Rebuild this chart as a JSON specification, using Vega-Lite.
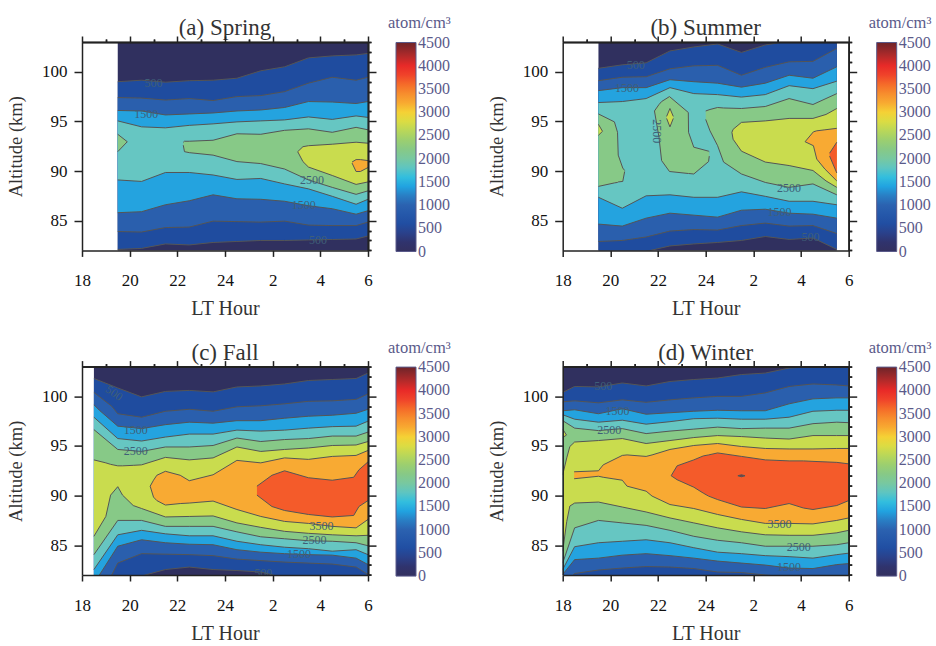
{"$schema":"https://vega.github.io/schema/vega-lite/v6.json","background":"white","padding":{"left":6,"top":15,"right":5,"bottom":5},"bounds":"flush","columns":2,"spacing":{"row":115.6,"column":194.7},"resolve":{"scale":{"color":"independent","fill":"independent"},"legend":{"color":"independent"}},
"config":{"view":{"stroke":null},"axis":{"grid":false,"zindex":1,"domainColor":"#222","domainWidth":1.5,"tickColor":"#222","tickWidth":1.5,"labelFont":"Liberation Serif","labelFontSize":17,"labelColor":"#111","titleFont":"Liberation Serif","titleFontSize":18.5,"titleFontWeight":"normal","titleColor":"#333","labelFlush":false},"title":{"font":"Liberation Serif","fontSize":23,"fontWeight":"normal","color":"#333","offset":-25,"anchor":"middle"},"legend":{"orient":"none","legendX":306,"legendY":-27,"gradientLength":209,"gradientThickness":20,"gradientStrokeColor":"#5a5a8a","gradientStrokeWidth":1,"labelFont":"Liberation Serif","labelFontSize":16,"labelColor":"#5a5a8a","labelOffset":1,"labelOverlap":false,"titleFont":"Liberation Serif","titleFontSize":16.5,"titleFontWeight":"normal","titleColor":"#5a5a8a","titlePadding":11}},
"datasets":{"bar":[{"v":0},{"v":4500}],
"a":[{"l":0,"h":19.5,"lo":80,"hi":105},{"l":0,"h":30,"lo":80,"hi":105},
{"l":500,"h":19.5,"lo":82.1,"hi":99},{"l":500,"h":20.5,"lo":82.2,"hi":99.15},{"l":500,"h":21.5,"lo":82.65,"hi":98.95},{"l":500,"h":22.5,"lo":82.55,"hi":99.1},{"l":500,"h":23.5,"lo":82.8,"hi":99.15},{"l":500,"h":24.5,"lo":82.9,"hi":99.35},{"l":500,"h":25.5,"lo":83,"hi":100.1},{"l":500,"h":26.5,"lo":83,"hi":100.5},{"l":500,"h":27.5,"lo":83.05,"hi":101.4},{"l":500,"h":28.5,"lo":83.1,"hi":101.6},{"l":500,"h":29.5,"lo":83.15,"hi":101.7},{"l":500,"h":30,"lo":83.45,"hi":101.85},
{"l":1000,"h":19.5,"lo":83.9,"hi":97.4},{"l":1000,"h":20.5,"lo":83.85,"hi":97.35},{"l":1000,"h":21.5,"lo":84.3,"hi":97.15},{"l":1000,"h":22.5,"lo":84.35,"hi":97.3},{"l":1000,"h":23.5,"lo":84.95,"hi":97.1},{"l":1000,"h":24.5,"lo":84.9,"hi":97.5},{"l":1000,"h":25.5,"lo":84.85,"hi":97.6},{"l":1000,"h":26.5,"lo":84.95,"hi":98},{"l":1000,"h":27.5,"lo":84.55,"hi":98.85},{"l":1000,"h":28.5,"lo":84.5,"hi":99.45},{"l":1000,"h":29.5,"lo":84.5,"hi":99.15},{"l":1000,"h":30,"lo":84.85,"hi":99.45},
{"l":1500,"h":19.5,"lo":85.8,"hi":96.1},{"l":1500,"h":20.5,"lo":85.9,"hi":96.05},{"l":1500,"h":21.5,"lo":86.6,"hi":95.65},{"l":1500,"h":22.5,"lo":87,"hi":95.75},{"l":1500,"h":23.5,"lo":87.6,"hi":95.85},{"l":1500,"h":24.5,"lo":87.2,"hi":96.05},{"l":1500,"h":25.5,"lo":87.15,"hi":96.15},{"l":1500,"h":26.5,"lo":86.95,"hi":96.4},{"l":1500,"h":27.5,"lo":86.5,"hi":97},{"l":1500,"h":28.5,"lo":86.2,"hi":96.95},{"l":1500,"h":29.5,"lo":85.65,"hi":96.8},{"l":1500,"h":30,"lo":86,"hi":97},
{"l":2000,"h":19.5,"lo":89.1,"hi":95.05},{"l":2000,"h":20.5,"lo":88.95,"hi":94.45},{"l":2000,"h":21.5,"lo":89.85,"hi":94.35},{"l":2000,"h":22.5,"lo":89.85,"hi":94.6},{"l":2000,"h":23.5,"lo":89.6,"hi":94.75},{"l":2000,"h":24.5,"lo":89.15,"hi":94.95},{"l":2000,"h":25.5,"lo":89.25,"hi":95.05},{"l":2000,"h":26.5,"lo":88.7,"hi":95.15},{"l":2000,"h":27.5,"lo":88.2,"hi":95.45},{"l":2000,"h":28.5,"lo":87.45,"hi":95.2},{"l":2000,"h":29.5,"lo":86.65,"hi":95.55},{"l":2000,"h":30,"lo":87.15,"hi":95.4},
{"l":2500,"r":1,"h":19.5,"lo":91.95,"hi":93.7},{"l":2500,"r":1,"h":19.9,"lo":92.95,"hi":92.95},
{"l":2500,"r":2,"h":22.25,"lo":92.6,"hi":92.9},{"l":2500,"r":2,"h":22.3,"lo":91.95,"hi":93},{"l":2500,"r":2,"h":22.5,"lo":91.85,"hi":93},{"l":2500,"r":2,"h":23.5,"lo":91.6,"hi":93.1},{"l":2500,"r":2,"h":24.5,"lo":90.95,"hi":93.75},{"l":2500,"r":2,"h":25.5,"lo":90.75,"hi":93.7},{"l":2500,"r":2,"h":26.5,"lo":90.2,"hi":94.1},{"l":2500,"r":2,"h":27.5,"lo":89.1,"hi":94.25},{"l":2500,"r":2,"h":28.5,"lo":88.35,"hi":93.9},{"l":2500,"r":2,"h":29.5,"lo":87.65,"hi":94.4},{"l":2500,"r":2,"h":30,"lo":88,"hi":94.15},
{"l":3000,"h":27.05,"lo":91.95,"hi":91.95},{"l":3000,"h":27.27,"lo":90.95,"hi":92.45},{"l":3000,"h":27.5,"lo":90.4,"hi":92.55},{"l":3000,"h":28.5,"lo":89.55,"hi":92.7},{"l":3000,"h":29.5,"lo":88.65,"hi":92.9},{"l":3000,"h":30,"lo":88.9,"hi":92.8},
{"l":3500,"h":29.33,"lo":90.8,"hi":90.9},{"l":3500,"h":29.5,"lo":89.95,"hi":91.15},{"l":3500,"h":29.68,"lo":89.95,"hi":91.15},{"l":3500,"h":30,"lo":90.35,"hi":91.05}],
"b":[{"l":0,"h":19.5,"lo":80,"hi":105},{"l":0,"h":29.5,"lo":80,"hi":105},
{"l":500,"h":19.5,"lo":81.5,"hi":100.35},{"l":500,"h":20.5,"lo":81.7,"hi":100.7},{"l":500,"h":21.5,"lo":81.9,"hi":100.9},{"l":500,"h":22.5,"lo":82.45,"hi":102.1},{"l":500,"h":23.5,"lo":82.65,"hi":102.5},{"l":500,"h":24.5,"lo":82.8,"hi":102.8},{"l":500,"h":25.5,"lo":83,"hi":101.95},{"l":500,"h":26.5,"lo":83.4,"hi":102.7},{"l":500,"h":27.5,"lo":83.1,"hi":103.1},{"l":500,"h":28.5,"lo":83.25,"hi":103.3},{"l":500,"h":29.5,"lo":82.1,"hi":103.45},
{"l":1000,"h":19.5,"lo":82.9,"hi":99.1},{"l":1000,"h":20.5,"lo":83,"hi":99.45},{"l":1000,"h":21.5,"lo":83.35,"hi":99.5},{"l":1000,"h":22.5,"lo":83.95,"hi":100.3},{"l":1000,"h":23.5,"lo":84.1,"hi":100.6},{"l":1000,"h":24.5,"lo":84.05,"hi":100.65},{"l":1000,"h":25.5,"lo":84.5,"hi":99.65},{"l":1000,"h":26.5,"lo":84.75,"hi":100.45},{"l":1000,"h":27.5,"lo":84.45,"hi":101},{"l":1000,"h":28.5,"lo":84.5,"hi":101.05},{"l":1000,"h":29.5,"lo":83.7,"hi":102.35},
{"l":1500,"h":19.5,"lo":84.65,"hi":98.1},{"l":1500,"h":20.5,"lo":84.45,"hi":98.4},{"l":1500,"h":21.5,"lo":85.25,"hi":98.4},{"l":1500,"h":22.5,"lo":85.75,"hi":99.2},{"l":1500,"h":23.5,"lo":85.55,"hi":99},{"l":1500,"h":24.5,"lo":85.35,"hi":98.85},{"l":1500,"h":25.5,"lo":86.05,"hi":98.45},{"l":1500,"h":26.5,"lo":86.15,"hi":98.85},{"l":1500,"h":27.5,"lo":85.75,"hi":99.65},{"l":1500,"h":28.5,"lo":85.65,"hi":99.35},{"l":1500,"h":29.5,"lo":85.25,"hi":100.5},
{"l":2000,"h":19.5,"lo":87.35,"hi":96.9},{"l":2000,"h":20.5,"lo":86.25,"hi":97},{"l":2000,"h":21.5,"lo":87.5,"hi":97.3},{"l":2000,"h":22.5,"lo":87.6,"hi":98.4},{"l":2000,"h":23.5,"lo":87.35,"hi":97.8},{"l":2000,"h":24.5,"lo":87.35,"hi":97.7},{"l":2000,"h":25.5,"lo":87.9,"hi":97.45},{"l":2000,"h":26.5,"lo":87.45,"hi":97.7},{"l":2000,"h":27.5,"lo":86.95,"hi":98.6},{"l":2000,"h":28.5,"lo":86.95,"hi":98.3},{"l":2000,"h":29.5,"lo":86.6,"hi":99.05},
{"l":2500,"r":1,"h":19.5,"lo":88.45,"hi":95.75},{"l":2500,"r":1,"h":20.17,"lo":88.8,"hi":94.95},{"l":2500,"r":1,"h":20.3,"lo":88.85,"hi":93.9},{"l":2500,"r":1,"h":20.33,"lo":88.9,"hi":91.6},{"l":2500,"r":1,"h":20.52,"lo":88.95,"hi":90.3},{"l":2500,"r":1,"h":20.6,"lo":89.95,"hi":90.05},
{"l":2500,"r":2,"h":21.85,"lo":96.05,"hi":96.05},{"l":2500,"r":2,"h":22.04,"lo":93.4,"hi":96.7},{"l":2500,"r":2,"h":22.15,"lo":91.05,"hi":97},{"l":2500,"r":2,"h":22.48,"lo":89.95,"hi":97.5},{"l":2500,"r":2,"h":23.27,"lo":89.75,"hi":95.9},{"l":2500,"r":2,"h":23.28,"lo":89.75,"hi":93.9},{"l":2500,"r":2,"h":23.5,"lo":89.7,"hi":92.4},{"l":2500,"r":2,"h":24.12,"lo":90.95,"hi":92},{"l":2500,"r":2,"h":24.15,"lo":91.5,"hi":91.95},
{"l":2500,"r":3,"h":24,"lo":95.2,"hi":96.05},{"l":2500,"r":3,"h":24.18,"lo":94.05,"hi":96.2},{"l":2500,"r":3,"h":24.5,"lo":92.55,"hi":96.4},{"l":2500,"r":3,"h":24.75,"lo":90.9,"hi":96.35},{"l":2500,"r":3,"h":25.5,"lo":89.7,"hi":96.3},{"l":2500,"r":3,"h":26.5,"lo":88.85,"hi":96.5},{"l":2500,"r":3,"h":27.5,"lo":88.35,"hi":97.3},{"l":2500,"r":3,"h":28.5,"lo":88.7,"hi":96.7},{"l":2500,"r":3,"h":29.5,"lo":87.6,"hi":97.8},
{"l":3000,"r":1,"h":19.5,"lo":93.6,"hi":94.7},{"l":3000,"r":1,"h":19.67,"lo":94,"hi":94},
{"l":3000,"r":2,"h":22.36,"lo":95.3,"hi":95.5},{"l":3000,"r":2,"h":22.5,"lo":94.45,"hi":96.3},{"l":3000,"r":2,"h":22.64,"lo":95.3,"hi":95.5},
{"l":3000,"r":3,"h":25.1,"lo":93.9,"hi":93.9},{"l":3000,"r":3,"h":25.15,"lo":93.2,"hi":94.2},{"l":3000,"r":3,"h":25.5,"lo":92,"hi":94.9},{"l":3000,"r":3,"h":26.5,"lo":90.9,"hi":95.05},{"l":3000,"r":3,"h":27.5,"lo":90.55,"hi":95.3},{"l":3000,"r":3,"h":28.5,"lo":90.05,"hi":95.3},{"l":3000,"r":3,"h":29.05,"lo":89,"hi":95.7},{"l":3000,"r":3,"h":29.5,"lo":88.35,"hi":96.3},
{"l":3500,"h":28.17,"lo":92.95,"hi":92.95},{"l":3500,"h":28.52,"lo":92.55,"hi":93.95},{"l":3500,"h":28.66,"lo":91.2,"hi":94.05},{"l":3500,"h":29,"lo":90.2,"hi":94.15},{"l":3500,"h":29.5,"lo":89,"hi":94.3},
{"l":4000,"h":29.2,"lo":91.5,"hi":91.8},{"l":4000,"h":29.5,"lo":89.8,"hi":92.9}],
"c":[{"l":0,"h":18.5,"lo":80,"hi":105},{"l":0,"h":30,"lo":80,"hi":105},
{"l":500,"h":18.5,"lo":81.2,"hi":101.8},{"l":500,"h":19.5,"lo":81.5,"hi":100.85},{"l":500,"h":20.5,"lo":81.9,"hi":99.95},{"l":500,"h":21.5,"lo":82.55,"hi":100.5},{"l":500,"h":22.5,"lo":82.8,"hi":100.6},{"l":500,"h":23.5,"lo":82.55,"hi":100.45},{"l":500,"h":24.5,"lo":82.45,"hi":100.95},{"l":500,"h":25.5,"lo":82.3,"hi":101.05},{"l":500,"h":26.5,"lo":81.7,"hi":101.25},{"l":500,"h":27.5,"lo":81.5,"hi":101.6},{"l":500,"h":28.5,"lo":81.5,"hi":101.7},{"l":500,"h":29.5,"lo":81.5,"hi":101.8},{"l":500,"h":30,"lo":81.5,"hi":102.35},
{"l":1000,"h":18.5,"lo":80.5,"hi":100.4},{"l":1000,"h":19.25,"lo":82,"hi":99},{"l":1000,"h":19.5,"lo":83.2,"hi":98.25},{"l":1000,"h":20.5,"lo":84.15,"hi":97.9},{"l":1000,"h":21.5,"lo":84.1,"hi":98.5},{"l":1000,"h":22.5,"lo":84.05,"hi":98.7},{"l":1000,"h":23.5,"lo":83.95,"hi":98.5},{"l":1000,"h":24.5,"lo":83.6,"hi":98.95},{"l":1000,"h":25.5,"lo":83.45,"hi":99.05},{"l":1000,"h":26.5,"lo":83.3,"hi":99.25},{"l":1000,"h":27.5,"lo":83.2,"hi":99.5},{"l":1000,"h":28.5,"lo":83.1,"hi":99.55},{"l":1000,"h":29.5,"lo":82.8,"hi":99.7},{"l":1000,"h":30,"lo":82.05,"hi":100.25},
{"l":1500,"h":18.5,"lo":81.2,"hi":99.15},{"l":1500,"h":18.73,"lo":82,"hi":98.6},{"l":1500,"h":19.5,"lo":84.9,"hi":97},{"l":1500,"h":20.5,"lo":85.55,"hi":96.75},{"l":1500,"h":21.5,"lo":85.25,"hi":97.15},{"l":1500,"h":22.5,"lo":85.1,"hi":97.4},{"l":1500,"h":23.5,"lo":85.05,"hi":97.3},{"l":1500,"h":24.5,"lo":84.55,"hi":97.55},{"l":1500,"h":25.5,"lo":84.3,"hi":97.55},{"l":1500,"h":26.5,"lo":84.15,"hi":97.8},{"l":1500,"h":27.5,"lo":84.05,"hi":98},{"l":1500,"h":28.5,"lo":84,"hi":98.1},{"l":1500,"h":29.5,"lo":83.7,"hi":98.3},{"l":1500,"h":30,"lo":83.05,"hi":98.7},
{"l":2000,"h":18.5,"lo":82.55,"hi":97.9},{"l":2000,"h":19.5,"lo":86.05,"hi":95.75},{"l":2000,"h":20.5,"lo":86.5,"hi":95.5},{"l":2000,"h":21.5,"lo":86.15,"hi":95.9},{"l":2000,"h":22.5,"lo":85.95,"hi":96.2},{"l":2000,"h":23.5,"lo":85.95,"hi":96.2},{"l":2000,"h":24.5,"lo":85.4,"hi":96.6},{"l":2000,"h":25.5,"lo":85.05,"hi":96.5},{"l":2000,"h":26.5,"lo":84.8,"hi":96.6},{"l":2000,"h":27.5,"lo":84.65,"hi":96.8},{"l":2000,"h":28.5,"lo":84.4,"hi":96.95},{"l":2000,"h":29.5,"lo":84.55,"hi":97},{"l":2000,"h":30,"lo":84.05,"hi":97.5},
{"l":2500,"h":18.5,"lo":84.05,"hi":96.65},{"l":2500,"h":19.5,"lo":87.5,"hi":94.65},{"l":2500,"h":20.5,"lo":87.5,"hi":94.45},{"l":2500,"h":21.5,"lo":86.9,"hi":94.9},{"l":2500,"h":22.5,"lo":86.9,"hi":94.9},{"l":2500,"h":23.5,"lo":86.9,"hi":95.05},{"l":2500,"h":24.5,"lo":86.35,"hi":95.8},{"l":2500,"h":25.5,"lo":85.85,"hi":95.45},{"l":2500,"h":26.5,"lo":85.65,"hi":95.65},{"l":2500,"h":27.5,"lo":85.45,"hi":95.75},{"l":2500,"h":28.5,"lo":85.4,"hi":96},{"l":2500,"h":29.5,"lo":85.25,"hi":96},{"l":2500,"h":30,"lo":84.95,"hi":96.4},
{"l":3000,"h":18.5,"lo":85.9,"hi":93.6},{"l":3000,"h":19,"lo":87.9,"hi":93.3},{"l":3000,"h":19.2,"lo":90.05,"hi":93.15},{"l":3000,"h":19.5,"lo":90.9,"hi":93},{"l":3000,"h":19.7,"lo":90.05,"hi":93},{"l":3000,"h":20.15,"lo":89,"hi":93.05},{"l":3000,"h":20.5,"lo":88.7,"hi":93.1},{"l":3000,"h":21.5,"lo":87.85,"hi":93.85},{"l":3000,"h":22.5,"lo":87.9,"hi":93.6},{"l":3000,"h":23.5,"lo":87.95,"hi":93.8},{"l":3000,"h":24.5,"lo":87.25,"hi":94.9},{"l":3000,"h":25.5,"lo":86.8,"hi":94.45},{"l":3000,"h":26.5,"lo":86.4,"hi":94.65},{"l":3000,"h":27.5,"lo":86.2,"hi":94.8},{"l":3000,"h":28.5,"lo":86.05,"hi":95.05},{"l":3000,"h":29.5,"lo":85.95,"hi":95.1},{"l":3000,"h":30,"lo":86,"hi":95.45},
{"l":3500,"h":20.86,"lo":90.95,"hi":90.95},{"l":3500,"h":21,"lo":89.85,"hi":91.55},{"l":3500,"h":21.14,"lo":89.5,"hi":92.05},{"l":3500,"h":21.5,"lo":89.05,"hi":92.45},{"l":3500,"h":22.12,"lo":89.2,"hi":92.05},{"l":3500,"h":22.5,"lo":89.25,"hi":91.5},{"l":3500,"h":23.5,"lo":89.45,"hi":92.1},{"l":3500,"h":24.5,"lo":88.6,"hi":93.55},{"l":3500,"h":25.5,"lo":87.9,"hi":93.3},{"l":3500,"h":26.5,"lo":87.4,"hi":93.8},{"l":3500,"h":27.5,"lo":87.2,"hi":93.65},{"l":3500,"h":28.5,"lo":86.9,"hi":93.95},{"l":3500,"h":29.5,"lo":86.75,"hi":94.05},{"l":3500,"h":30,"lo":87.6,"hi":94.55},
{"l":4000,"h":25.34,"lo":90.05,"hi":90.95},{"l":4000,"h":25.97,"lo":88.9,"hi":92.05},{"l":4000,"h":26.5,"lo":88.5,"hi":92.5},{"l":4000,"h":27.5,"lo":88.1,"hi":91.8},{"l":4000,"h":28.5,"lo":87.85,"hi":91.55},{"l":4000,"h":29.4,"lo":88,"hi":91.85},{"l":4000,"h":29.62,"lo":88.9,"hi":92.6},{"l":4000,"h":30,"lo":89.5,"hi":93.4}],
"d":[{"l":0,"h":18,"lo":80,"hi":105},{"l":0,"h":30,"lo":80,"hi":105},
{"l":500,"h":18,"lo":81,"hi":100.4},{"l":500,"h":18.5,"lo":81,"hi":101},{"l":500,"h":19.5,"lo":81,"hi":100.95},{"l":500,"h":20.5,"lo":81,"hi":101.35},{"l":500,"h":21.5,"lo":81,"hi":101.05},{"l":500,"h":22.5,"lo":81,"hi":101.5},{"l":500,"h":23.5,"lo":81,"hi":101.7},{"l":500,"h":24.5,"lo":81,"hi":101.85},{"l":500,"h":25.5,"lo":81,"hi":102.2},{"l":500,"h":26.5,"lo":81,"hi":102.35},{"l":500,"h":27.5,"lo":81,"hi":102.85},{"l":500,"h":28.5,"lo":81,"hi":103},{"l":500,"h":29.5,"lo":81,"hi":103.1},{"l":500,"h":30,"lo":81,"hi":103.2},
{"l":1000,"h":18,"lo":81,"hi":99.45},{"l":1000,"h":18.5,"lo":82.15,"hi":99.55},{"l":1000,"h":19.5,"lo":82.5,"hi":99.35},{"l":1000,"h":20.5,"lo":82.7,"hi":99.65},{"l":1000,"h":21.5,"lo":82.85,"hi":99.4},{"l":1000,"h":22.5,"lo":82.8,"hi":99.65},{"l":1000,"h":23.5,"lo":82.65,"hi":99.85},{"l":1000,"h":24.5,"lo":82.3,"hi":100},{"l":1000,"h":25.5,"lo":82.25,"hi":100},{"l":1000,"h":26.5,"lo":82,"hi":100.35},{"l":1000,"h":27.5,"lo":81.8,"hi":101},{"l":1000,"h":28.5,"lo":81.6,"hi":101.25},{"l":1000,"h":29.5,"lo":81.5,"hi":101.15},{"l":1000,"h":30,"lo":81.5,"hi":101.05},
{"l":1500,"h":18,"lo":82.05,"hi":98.55},{"l":1500,"h":18.5,"lo":83.55,"hi":98.65},{"l":1500,"h":19.5,"lo":83.7,"hi":98.25},{"l":1500,"h":20.5,"lo":84,"hi":98.75},{"l":1500,"h":21.5,"lo":84.15,"hi":98.2},{"l":1500,"h":22.5,"lo":83.95,"hi":98.35},{"l":1500,"h":23.5,"lo":83.7,"hi":98.5},{"l":1500,"h":24.5,"lo":83.4,"hi":98.6},{"l":1500,"h":25.5,"lo":83.2,"hi":98.55},{"l":1500,"h":26.5,"lo":83,"hi":98.55},{"l":1500,"h":27.5,"lo":82.7,"hi":99.25},{"l":1500,"h":28.5,"lo":82.65,"hi":99.75},{"l":1500,"h":29.5,"lo":83.05,"hi":99.85},{"l":1500,"h":30,"lo":83.15,"hi":99.85},
{"l":2000,"h":18,"lo":82.55,"hi":98.15},{"l":2000,"h":18.5,"lo":84.85,"hi":97.7},{"l":2000,"h":19.5,"lo":85.25,"hi":97.4},{"l":2000,"h":20.5,"lo":85.4,"hi":97.6},{"l":2000,"h":21.5,"lo":85.55,"hi":97.2},{"l":2000,"h":22.5,"lo":85.25,"hi":97.45},{"l":2000,"h":23.5,"lo":84.75,"hi":97.75},{"l":2000,"h":24.5,"lo":84.3,"hi":97.8},{"l":2000,"h":25.5,"lo":84.15,"hi":97.7},{"l":2000,"h":26.5,"lo":83.95,"hi":97.7},{"l":2000,"h":27.5,"lo":83.85,"hi":97.9},{"l":2000,"h":28.5,"lo":83.7,"hi":98.5},{"l":2000,"h":29.5,"lo":84.05,"hi":98.6},{"l":2000,"h":30,"lo":84.2,"hi":98.6},
{"l":2500,"h":18,"lo":83.2,"hi":97.55},{"l":2500,"h":18.5,"lo":86.75,"hi":96.8},{"l":2500,"h":19.5,"lo":87.5,"hi":96.55},{"l":2500,"h":20.5,"lo":87.25,"hi":96.75},{"l":2500,"h":21.5,"lo":87,"hi":96.25},{"l":2500,"h":22.5,"lo":86.5,"hi":96.5},{"l":2500,"h":23.5,"lo":85.9,"hi":96.7},{"l":2500,"h":24.5,"lo":85.5,"hi":96.9},{"l":2500,"h":25.5,"lo":85.25,"hi":96.75},{"l":2500,"h":26.5,"lo":84.9,"hi":96.8},{"l":2500,"h":27.5,"lo":84.9,"hi":96.8},{"l":2500,"h":28.5,"lo":84.9,"hi":97.25},{"l":2500,"h":29.5,"lo":85.05,"hi":97.4},{"l":2500,"h":30,"lo":85.25,"hi":97.35},
{"l":3000,"r":1,"h":18,"lo":84.4,"hi":92.1},{"l":3000,"r":1,"h":18.17,"lo":87.4,"hi":93.8},{"l":3000,"r":1,"h":18.3,"lo":88.95,"hi":94.95},{"l":3000,"r":1,"h":18.5,"lo":89.25,"hi":95.4},{"l":3000,"r":1,"h":19.5,"lo":89.35,"hi":95.55},{"l":3000,"r":1,"h":20.5,"lo":88.85,"hi":95.75},{"l":3000,"r":1,"h":21.5,"lo":88.35,"hi":95.25},{"l":3000,"r":1,"h":22.5,"lo":87.75,"hi":95.55},{"l":3000,"r":1,"h":23.5,"lo":87.25,"hi":95.85},{"l":3000,"r":1,"h":24.5,"lo":86.75,"hi":96.05},{"l":3000,"r":1,"h":25.5,"lo":86.35,"hi":95.95},{"l":3000,"r":1,"h":26.5,"lo":86.05,"hi":95.8},{"l":3000,"r":1,"h":27.5,"lo":86,"hi":95.7},{"l":3000,"r":1,"h":28.5,"lo":86,"hi":96.05},{"l":3000,"r":1,"h":29.5,"lo":86.25,"hi":96.05},{"l":3000,"r":1,"h":30,"lo":86.5,"hi":96.05},
{"l":3000,"r":2,"h":18,"lo":95.85,"hi":96.7},{"l":3000,"r":2,"h":18.16,"lo":96.1,"hi":96.1},
{"l":3500,"h":18.48,"lo":91.7,"hi":92.4},{"l":3500,"h":19.5,"lo":91.95,"hi":92.5},{"l":3500,"h":19.7,"lo":91.85,"hi":93.1},{"l":3500,"h":20.5,"lo":91.55,"hi":94.05},{"l":3500,"h":20.7,"lo":90.95,"hi":94.1},{"l":3500,"h":21.5,"lo":90.45,"hi":93.95},{"l":3500,"h":21.75,"lo":89.95,"hi":94.1},{"l":3500,"h":22.5,"lo":89.1,"hi":94.65},{"l":3500,"h":23.5,"lo":88.7,"hi":95.05},{"l":3500,"h":24.5,"lo":88.1,"hi":95.25},{"l":3500,"h":25.5,"lo":87.6,"hi":94.95},{"l":3500,"h":26.5,"lo":87.2,"hi":94.75},{"l":3500,"h":27.5,"lo":87.2,"hi":94.7},{"l":3500,"h":28.5,"lo":87.15,"hi":94.7},{"l":3500,"h":29.5,"lo":87.5,"hi":94.75},{"l":3500,"h":30,"lo":87.75,"hi":94.75},
{"l":4000,"h":22.55,"lo":92,"hi":92},{"l":4000,"h":22.8,"lo":91.6,"hi":93},{"l":4000,"h":23.5,"lo":90.85,"hi":93.6},{"l":4000,"h":23.9,"lo":90.25,"hi":94},{"l":4000,"h":24.12,"lo":89.95,"hi":94.1},{"l":4000,"h":24.5,"lo":89.6,"hi":94.3},{"l":4000,"h":25.5,"lo":88.85,"hi":93.95},{"l":4000,"h":26.5,"lo":88.7,"hi":93.6},{"l":4000,"h":27.5,"lo":89.2,"hi":93.5},{"l":4000,"h":28.1,"lo":88.75,"hi":93.5},{"l":4000,"h":28.5,"lo":88.6,"hi":93.45},{"l":4000,"h":29.5,"lo":89,"hi":93.35},{"l":4000,"h":30,"lo":89.5,"hi":93.2},
{"l":4500,"h":25.35,"lo":92,"hi":92},{"l":4500,"h":25.5,"lo":91.9,"hi":92.1},{"l":4500,"h":25.65,"lo":92,"hi":92}],
"aL":[{"h":21,"alt":98.9,"t":"500"},{"h":20.7,"alt":95.7,"t":"1500"},{"h":27.65,"alt":89.1,"t":"2500"},{"h":27.3,"alt":86.6,"t":"1500"},{"h":27.9,"alt":83,"t":"500"}],
"bL":[{"h":21.06,"alt":100.7,"t":"500"},{"h":20.7,"alt":98.35,"t":"1500"},{"h":27.5,"alt":88.3,"t":"2500"},{"h":27.1,"alt":85.9,"t":"1500"},{"h":28.4,"alt":83.3,"t":"500"}],
"cL":[{"h":20.25,"alt":96.6,"t":"1500"},{"h":20.25,"alt":94.45,"t":"2500"},{"h":28.05,"alt":86.95,"t":"3500"},{"h":27.75,"alt":85.5,"t":"2500"},{"h":27.1,"alt":84.15,"t":"1500"},{"h":25.6,"alt":82.2,"t":"500"}],
"dL":[{"h":19.7,"alt":101,"t":"500"},{"h":20.3,"alt":98.5,"t":"1500"},{"h":19.95,"alt":96.6,"t":"2500"},{"h":27.1,"alt":87.15,"t":"3500"},{"h":27.9,"alt":84.85,"t":"2500"},{"h":27.5,"alt":82.8,"t":"1500"}]},
"concat":[
{"title":"(a) Spring","width":286,"height":208.4,"resolve":{"axis":{"x":"independent","y":"independent"}},"layer":[
{"data":{"name":"a"},"mark":{"type":"area","clip":true},"encoding":{"x":{"field":"h","type":"quantitative","scale":{"domain":[18,30],"nice":false},"axis":{"values":[18,20,22,24,26,28,30],"labelExpr":"datum.value>24?datum.value-24:datum.value","title":"LT Hour","titleFontSize":20,"tickSize":6,"labelPadding":16,"titlePadding":10,"zindex":1}},"y":{"field":"lo","type":"quantitative","scale":{"domain":[82,103],"nice":false},"axis":{"values":[85,90,95,100],"title":"Altitude (km)","tickSize":8,"labelPadding":7,"titlePadding":16,"zindex":1}},"y2":{"field":"hi"},"fill":{"field":"l","type":"ordinal","legend":null,"scale":{"domain":[0,500,1000,1500,2000,2500,3000,3500,4000,4500],"range":["#30305f","#1f4c9f","#2a5fad","#24a3df","#66c6c2","#87c987","#c9dc4e","#f8aa33","#f45b2a","#7a3a40"]}},"detail":{"field":"r"}}},
{"data":{"name":"a"},"mark":{"type":"line","clip":true,"color":"#555","strokeWidth":1},"encoding":{"x":{"field":"h","type":"quantitative","scale":{"domain":[18,30],"nice":false},"axis":{"values":[19,21,23,25,27,29],"labels":false,"title":null,"tickSize":3,"zindex":1}},"y":{"field":"lo","type":"quantitative","scale":{"domain":[82,103],"nice":false},"axis":{"values":[82,83,84,86,87,88,89,91,92,93,94,96,97,98,99,101,102,103],"labels":false,"title":null,"tickSize":3,"zindex":1}},"detail":[{"field":"l"},{"field":"r"}]}},
{"data":{"name":"a"},"mark":{"type":"line","clip":true,"color":"#555","strokeWidth":1},"encoding":{"x":{"field":"h","type":"quantitative","scale":{"domain":[18,30],"nice":false},"axis":{"orient":"top","values":[18,20,22,24,26,28,30],"labels":false,"title":null,"tickSize":6,"zindex":1}},"y":{"field":"hi","type":"quantitative","scale":{"domain":[82,103],"nice":false},"axis":{"orient":"right","values":[85,90,95,100],"labels":false,"title":null,"tickSize":8,"zindex":1}},"detail":[{"field":"l"},{"field":"r"}]}},
{"data":{"name":"aL"},"mark":{"type":"text","font":"Liberation Serif","fontSize":12,"color":"#3f5f78","clip":true},"encoding":{"x":{"field":"h","type":"quantitative","scale":{"domain":[18,30],"nice":false},"axis":{"orient":"top","values":[19,21,23,25,27,29],"labels":false,"title":null,"tickSize":3,"zindex":1}},"y":{"field":"alt","type":"quantitative","scale":{"domain":[82,103],"nice":false},"axis":{"orient":"right","values":[82,83,84,86,87,88,89,91,92,93,94,96,97,98,99,101,102,103],"labels":false,"title":null,"tickSize":3,"zindex":1}},"text":{"field":"t"}}},
{"data":{"name":"bar"},"mark":{"type":"point","size":0,"filled":true,"opacity":1},"encoding":{"color":{"field":"v","type":"quantitative","scale":{"domain":[0,250,500,750,1000,1250,1500,1750,2000,2250,2500,2750,3000,3250,3500,3750,4000,4250,4500],"range":["#33305f","#2f3470","#1f4a9e","#2455a8","#2b62b0","#2a85c8","#20b8ee","#5cc4c8","#78c8a0","#8dc97f","#a9d263","#d4de48","#f5d135","#f7a032","#f67f2c","#f2482a","#e82a28","#a82a2a","#6e2428"]},"legend":{"title":"atom/cm³","format":"d","values":[0,500,1000,1500,2000,2500,3000,3500,4000,4500],"encoding":{"title":{"dx":{"value":-8}},"labels":{"baseline":{"value":"middle"}}}}}}}
]},
{"title":"(b) Summer","width":286,"height":208.4,"resolve":{"axis":{"x":"independent","y":"independent"}},"layer":[
{"data":{"name":"b"},"mark":{"type":"area","clip":true},"encoding":{"x":{"field":"h","type":"quantitative","scale":{"domain":[18,30],"nice":false},"axis":{"values":[18,20,22,24,26,28,30],"labelExpr":"datum.value>24?datum.value-24:datum.value","title":"LT Hour","titleFontSize":20,"tickSize":6,"labelPadding":16,"titlePadding":10,"zindex":1}},"y":{"field":"lo","type":"quantitative","scale":{"domain":[82,103],"nice":false},"axis":{"values":[85,90,95,100],"title":"Altitude (km)","tickSize":8,"labelPadding":7,"titlePadding":16,"zindex":1}},"y2":{"field":"hi"},"fill":{"field":"l","type":"ordinal","legend":null,"scale":{"domain":[0,500,1000,1500,2000,2500,3000,3500,4000,4500],"range":["#30305f","#1f4c9f","#2a5fad","#24a3df","#66c6c2","#87c987","#c9dc4e","#f8aa33","#f45b2a","#7a3a40"]}},"detail":{"field":"r"}}},
{"data":{"name":"b"},"mark":{"type":"line","clip":true,"color":"#555","strokeWidth":1},"encoding":{"x":{"field":"h","type":"quantitative","scale":{"domain":[18,30],"nice":false},"axis":{"values":[19,21,23,25,27,29],"labels":false,"title":null,"tickSize":3,"zindex":1}},"y":{"field":"lo","type":"quantitative","scale":{"domain":[82,103],"nice":false},"axis":{"values":[82,83,84,86,87,88,89,91,92,93,94,96,97,98,99,101,102,103],"labels":false,"title":null,"tickSize":3,"zindex":1}},"detail":[{"field":"l"},{"field":"r"}]}},
{"data":{"name":"b"},"mark":{"type":"line","clip":true,"color":"#555","strokeWidth":1},"encoding":{"x":{"field":"h","type":"quantitative","scale":{"domain":[18,30],"nice":false},"axis":{"orient":"top","values":[18,20,22,24,26,28,30],"labels":false,"title":null,"tickSize":6,"zindex":1}},"y":{"field":"hi","type":"quantitative","scale":{"domain":[82,103],"nice":false},"axis":{"orient":"right","values":[85,90,95,100],"labels":false,"title":null,"tickSize":8,"zindex":1}},"detail":[{"field":"l"},{"field":"r"}]}},
{"data":{"name":"bL"},"mark":{"type":"text","font":"Liberation Serif","fontSize":12,"color":"#3f5f78","clip":true},"encoding":{"x":{"field":"h","type":"quantitative","scale":{"domain":[18,30],"nice":false},"axis":{"orient":"top","values":[19,21,23,25,27,29],"labels":false,"title":null,"tickSize":3,"zindex":1}},"y":{"field":"alt","type":"quantitative","scale":{"domain":[82,103],"nice":false},"axis":{"orient":"right","values":[82,83,84,86,87,88,89,91,92,93,94,96,97,98,99,101,102,103],"labels":false,"title":null,"tickSize":3,"zindex":1}},"text":{"field":"t"}}},
{"data":{"values":[{"h":21.95,"alt":94,"t":"2500"}]},"mark":{"type":"text","font":"Liberation Serif","fontSize":12,"color":"#3f5f78","angle":90},"encoding":{"x":{"field":"h","type":"quantitative","scale":{"domain":[18,30],"nice":false},"axis":null},"y":{"field":"alt","type":"quantitative","scale":{"domain":[82,103],"nice":false},"axis":null},"text":{"field":"t"}}},
{"data":{"name":"bar"},"mark":{"type":"point","size":0,"filled":true,"opacity":1},"encoding":{"color":{"field":"v","type":"quantitative","scale":{"domain":[0,250,500,750,1000,1250,1500,1750,2000,2250,2500,2750,3000,3250,3500,3750,4000,4250,4500],"range":["#33305f","#2f3470","#1f4a9e","#2455a8","#2b62b0","#2a85c8","#20b8ee","#5cc4c8","#78c8a0","#8dc97f","#a9d263","#d4de48","#f5d135","#f7a032","#f67f2c","#f2482a","#e82a28","#a82a2a","#6e2428"]},"legend":{"title":"atom/cm³","format":"d","values":[0,500,1000,1500,2000,2500,3000,3500,4000,4500],"encoding":{"title":{"dx":{"value":-8}},"labels":{"baseline":{"value":"middle"}}}}}}}
]},
{"title":"(c) Fall","width":286,"height":208.4,"resolve":{"axis":{"x":"independent","y":"independent"}},"layer":[
{"data":{"name":"c"},"mark":{"type":"area","clip":true},"encoding":{"x":{"field":"h","type":"quantitative","scale":{"domain":[18,30],"nice":false},"axis":{"values":[18,20,22,24,26,28,30],"labelExpr":"datum.value>24?datum.value-24:datum.value","title":"LT Hour","titleFontSize":20,"tickSize":6,"labelPadding":16,"titlePadding":10,"zindex":1}},"y":{"field":"lo","type":"quantitative","scale":{"domain":[82,103],"nice":false},"axis":{"values":[85,90,95,100],"title":"Altitude (km)","tickSize":8,"labelPadding":7,"titlePadding":16,"zindex":1}},"y2":{"field":"hi"},"fill":{"field":"l","type":"ordinal","legend":null,"scale":{"domain":[0,500,1000,1500,2000,2500,3000,3500,4000,4500],"range":["#30305f","#1f4c9f","#2a5fad","#24a3df","#66c6c2","#87c987","#c9dc4e","#f8aa33","#f45b2a","#7a3a40"]}},"detail":{"field":"r"}}},
{"data":{"name":"c"},"mark":{"type":"line","clip":true,"color":"#555","strokeWidth":1},"encoding":{"x":{"field":"h","type":"quantitative","scale":{"domain":[18,30],"nice":false},"axis":{"values":[19,21,23,25,27,29],"labels":false,"title":null,"tickSize":3,"zindex":1}},"y":{"field":"lo","type":"quantitative","scale":{"domain":[82,103],"nice":false},"axis":{"values":[82,83,84,86,87,88,89,91,92,93,94,96,97,98,99,101,102,103],"labels":false,"title":null,"tickSize":3,"zindex":1}},"detail":[{"field":"l"},{"field":"r"}]}},
{"data":{"name":"c"},"mark":{"type":"line","clip":true,"color":"#555","strokeWidth":1},"encoding":{"x":{"field":"h","type":"quantitative","scale":{"domain":[18,30],"nice":false},"axis":{"orient":"top","values":[18,20,22,24,26,28,30],"labels":false,"title":null,"tickSize":6,"zindex":1}},"y":{"field":"hi","type":"quantitative","scale":{"domain":[82,103],"nice":false},"axis":{"orient":"right","values":[85,90,95,100],"labels":false,"title":null,"tickSize":8,"zindex":1}},"detail":[{"field":"l"},{"field":"r"}]}},
{"data":{"name":"cL"},"mark":{"type":"text","font":"Liberation Serif","fontSize":12,"color":"#3f5f78","clip":true},"encoding":{"x":{"field":"h","type":"quantitative","scale":{"domain":[18,30],"nice":false},"axis":{"orient":"top","values":[19,21,23,25,27,29],"labels":false,"title":null,"tickSize":3,"zindex":1}},"y":{"field":"alt","type":"quantitative","scale":{"domain":[82,103],"nice":false},"axis":{"orient":"right","values":[82,83,84,86,87,88,89,91,92,93,94,96,97,98,99,101,102,103],"labels":false,"title":null,"tickSize":3,"zindex":1}},"text":{"field":"t"}}},
{"data":{"values":[{"h":19.35,"alt":100.35,"t":"500"}]},"mark":{"type":"text","font":"Liberation Serif","fontSize":12,"color":"#3f5f78","angle":35},"encoding":{"x":{"field":"h","type":"quantitative","scale":{"domain":[18,30],"nice":false},"axis":null},"y":{"field":"alt","type":"quantitative","scale":{"domain":[82,103],"nice":false},"axis":null},"text":{"field":"t"}}},
{"data":{"name":"bar"},"mark":{"type":"point","size":0,"filled":true,"opacity":1},"encoding":{"color":{"field":"v","type":"quantitative","scale":{"domain":[0,250,500,750,1000,1250,1500,1750,2000,2250,2500,2750,3000,3250,3500,3750,4000,4250,4500],"range":["#33305f","#2f3470","#1f4a9e","#2455a8","#2b62b0","#2a85c8","#20b8ee","#5cc4c8","#78c8a0","#8dc97f","#a9d263","#d4de48","#f5d135","#f7a032","#f67f2c","#f2482a","#e82a28","#a82a2a","#6e2428"]},"legend":{"title":"atom/cm³","format":"d","values":[0,500,1000,1500,2000,2500,3000,3500,4000,4500],"encoding":{"title":{"dx":{"value":-8}},"labels":{"baseline":{"value":"middle"}}}}}}}
]},
{"title":"(d) Winter","width":286,"height":208.4,"resolve":{"axis":{"x":"independent","y":"independent"}},"layer":[
{"data":{"name":"d"},"mark":{"type":"area","clip":true},"encoding":{"x":{"field":"h","type":"quantitative","scale":{"domain":[18,30],"nice":false},"axis":{"values":[18,20,22,24,26,28,30],"labelExpr":"datum.value>24?datum.value-24:datum.value","title":"LT Hour","titleFontSize":20,"tickSize":6,"labelPadding":16,"titlePadding":10,"zindex":1}},"y":{"field":"lo","type":"quantitative","scale":{"domain":[82,103],"nice":false},"axis":{"values":[85,90,95,100],"title":"Altitude (km)","tickSize":8,"labelPadding":7,"titlePadding":16,"zindex":1}},"y2":{"field":"hi"},"fill":{"field":"l","type":"ordinal","legend":null,"scale":{"domain":[0,500,1000,1500,2000,2500,3000,3500,4000,4500],"range":["#30305f","#1f4c9f","#2a5fad","#24a3df","#66c6c2","#87c987","#c9dc4e","#f8aa33","#f45b2a","#7a3a40"]}},"detail":{"field":"r"}}},
{"data":{"name":"d"},"mark":{"type":"line","clip":true,"color":"#555","strokeWidth":1},"encoding":{"x":{"field":"h","type":"quantitative","scale":{"domain":[18,30],"nice":false},"axis":{"values":[19,21,23,25,27,29],"labels":false,"title":null,"tickSize":3,"zindex":1}},"y":{"field":"lo","type":"quantitative","scale":{"domain":[82,103],"nice":false},"axis":{"values":[82,83,84,86,87,88,89,91,92,93,94,96,97,98,99,101,102,103],"labels":false,"title":null,"tickSize":3,"zindex":1}},"detail":[{"field":"l"},{"field":"r"}]}},
{"data":{"name":"d"},"mark":{"type":"line","clip":true,"color":"#555","strokeWidth":1},"encoding":{"x":{"field":"h","type":"quantitative","scale":{"domain":[18,30],"nice":false},"axis":{"orient":"top","values":[18,20,22,24,26,28,30],"labels":false,"title":null,"tickSize":6,"zindex":1}},"y":{"field":"hi","type":"quantitative","scale":{"domain":[82,103],"nice":false},"axis":{"orient":"right","values":[85,90,95,100],"labels":false,"title":null,"tickSize":8,"zindex":1}},"detail":[{"field":"l"},{"field":"r"}]}},
{"data":{"name":"dL"},"mark":{"type":"text","font":"Liberation Serif","fontSize":12,"color":"#3f5f78","clip":true},"encoding":{"x":{"field":"h","type":"quantitative","scale":{"domain":[18,30],"nice":false},"axis":{"orient":"top","values":[19,21,23,25,27,29],"labels":false,"title":null,"tickSize":3,"zindex":1}},"y":{"field":"alt","type":"quantitative","scale":{"domain":[82,103],"nice":false},"axis":{"orient":"right","values":[82,83,84,86,87,88,89,91,92,93,94,96,97,98,99,101,102,103],"labels":false,"title":null,"tickSize":3,"zindex":1}},"text":{"field":"t"}}},
{"data":{"name":"bar"},"mark":{"type":"point","size":0,"filled":true,"opacity":1},"encoding":{"color":{"field":"v","type":"quantitative","scale":{"domain":[0,250,500,750,1000,1250,1500,1750,2000,2250,2500,2750,3000,3250,3500,3750,4000,4250,4500],"range":["#33305f","#2f3470","#1f4a9e","#2455a8","#2b62b0","#2a85c8","#20b8ee","#5cc4c8","#78c8a0","#8dc97f","#a9d263","#d4de48","#f5d135","#f7a032","#f67f2c","#f2482a","#e82a28","#a82a2a","#6e2428"]},"legend":{"title":"atom/cm³","format":"d","values":[0,500,1000,1500,2000,2500,3000,3500,4000,4500],"encoding":{"title":{"dx":{"value":-8}},"labels":{"baseline":{"value":"middle"}}}}}}}
]}
]}
